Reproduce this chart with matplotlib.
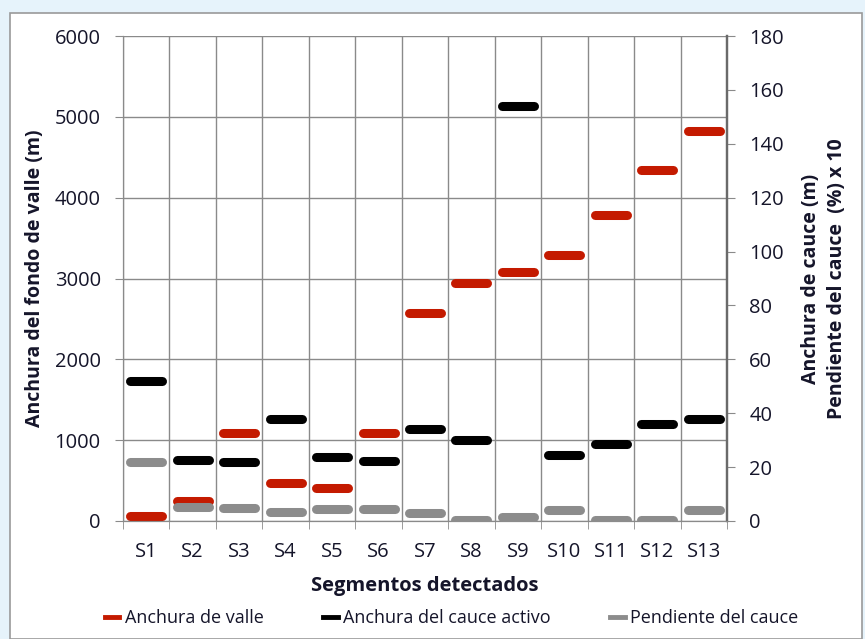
import matplotlib
matplotlib.use("Agg")
import matplotlib.pyplot as plt
from matplotlib.markers import MarkerStyle
from matplotlib.patches import Rectangle
from matplotlib.lines import Line2D

SEGMENTS = ["S1", "S2", "S3", "S4", "S5", "S6", "S7", "S8", "S9", "S10", "S11", "S12", "S13"]
# Anchura de valle (m), left axis
VALLE = [60, 250, 1090, 470, 410, 1090, 2570, 2950, 3080, 3290, 3780, 4340, 4830]
# Anchura del cauce activo (m), right axis
CAUCE = [52, 22.6, 22, 37.8, 23.7, 22.3, 34, 30, 154, 24.5, 28.6, 36, 37.8]
# Pendiente del cauce (%) x 10, right axis
PENDIENTE = [21.8, 5.2, 5.0, 3.3, 4.4, 4.6, 3.0, 0.4, 1.5, 4.0, 0.3, 0.3, 4.0]

plt.rcParams["font.family"] = ["Open Sans", "DejaVu Sans"]
TXT = "#15152a"

fig = plt.figure(figsize=(8.65, 6.39), dpi=100)
fig.patch.set_facecolor("#e6f3fb")
fig.patches.append(Rectangle((10 / 865, 0), 852 / 865, 1 - 13 / 639, transform=fig.transFigure,
                             facecolor="white", edgecolor="#9a9a9a", lw=1.2, zorder=-10))

ax = fig.add_axes([123 / 865, 1 - 521 / 639, 604 / 865, 485 / 639])
ax2 = ax.twinx()
x = list(range(len(SEGMENTS)))

dash = MarkerStyle("_", capstyle="round")
ax.plot(x, VALLE, ls="none", marker=dash, ms=23, mew=6.5, color="#c41a00", zorder=3)
ax2.plot(x, CAUCE, ls="none", marker=dash, ms=23, mew=6.5, color="#000000", zorder=3)
ax2.plot(x, PENDIENTE, ls="none", marker=dash, ms=23, mew=6.5, color="#8c8c8c", zorder=3)

ax.set_xlim(-0.5, len(SEGMENTS) - 0.5)
ax.set_ylim(0, 6000)
ax2.set_ylim(0, 180)
ax.set_yticks(range(0, 6001, 1000))
ax2.set_yticks(range(0, 181, 20))
ax.set_xticks(x)
ax.set_xticklabels(SEGMENTS)
ax.set_xticks([i - 0.5 for i in range(len(SEGMENTS) + 1)], minor=True)

ax.grid(True, axis="y", color="#8a8a8a", lw=1)
ax.grid(True, axis="x", which="minor", color="#8a8a8a", lw=1)
ax.set_axisbelow(True)
ax.tick_params(axis="x", which="major", length=0, labelsize=14.5, pad=15, colors=TXT)
ax.tick_params(axis="x", which="minor", length=6, color="#8a8a8a")
ax.tick_params(axis="y", length=6, color="#8a8a8a", labelsize=14.5, pad=10, colors=TXT)
ax2.tick_params(axis="y", length=6, color="#8a8a8a", labelsize=14.5, pad=10, colors=TXT)
for a in (ax, ax2):
    a.spines["top"].set_visible(False)
    a.spines["left"].set_color("#8a8a8a")
    a.spines["bottom"].set_color("#8a8a8a")
    a.spines["right"].set_color("#6a6a6a")
    a.spines["right"].set_linewidth(1.6)

ax.set_xlabel("Segmentos detectados", fontsize=14.5, fontweight="bold", labelpad=10, color=TXT)
ax.set_ylabel("Anchura del fondo de valle (m)", fontsize=14, fontweight="bold", labelpad=7, color=TXT)
ax2.set_ylabel("Anchura de cauce (m)\nPendiente del cauce  (%) x 10", fontsize=14,
               fontweight="bold", labelpad=12, rotation=90, color=TXT, linespacing=1.4)

handles = [Line2D([], [], color=c, lw=3.5) for c in ("#c41a00", "#000000", "#8c8c8c")]
labels = ["Anchura de valle", "Anchura del cauce activo", "Pendiente del cauce"]
fig.legend(handles, labels, loc="center", bbox_to_anchor=(0.522, 1 - 618 / 639), ncol=3,
           frameon=False, fontsize=13, handlelength=0.8, handletextpad=0.3, columnspacing=3.3,
           labelcolor=TXT)

fig.savefig("out.png", dpi=100, facecolor=fig.get_facecolor())
